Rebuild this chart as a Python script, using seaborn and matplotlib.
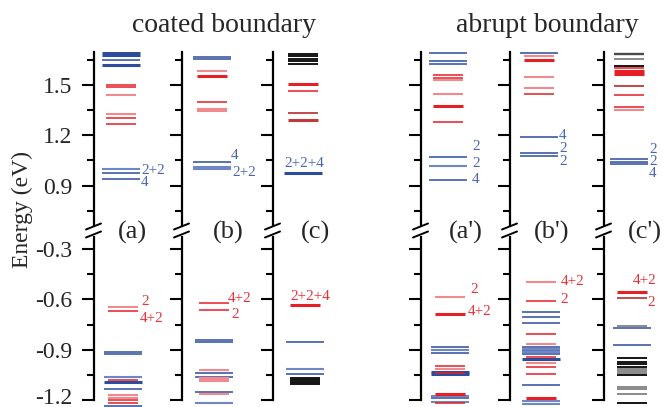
import matplotlib
matplotlib.use("Agg")
import matplotlib.pyplot as plt
import matplotlib.transforms as mtransforms
import seaborn as sns
import pandas as pd
from matplotlib.lines import Line2D

# ---------------- data ----------------
PANELS = ["(a)", "(b)", "(c)", "(a')", "(b')", "(c')"]
GROUP_TITLES = ["coated boundary", "abrupt boundary"]
YLABEL = "Energy (eV)"
UP_MAJOR = [0.9, 1.2, 1.5]
UP_MINOR = [0.75, 1.05, 1.35, 1.65]
LO_MAJOR = [-1.2, -0.9, -0.6, -0.3]
LO_MINOR = [-1.05, -0.75, -0.45]

# panel (a)
A_BLUE = [1.645, 0.975, 0.940, -0.910, -0.922, -1.132, -1.234]
A_BLUE_B = [1.693, 1.677, 1.617, -1.094]
A_BLUE_L = [1.000, -1.064]
A_RED = [1.500, 1.488, 1.305, 1.268, -0.672, -1.082, -1.200, -1.214]
A_RED_L = [1.440, 1.327, -0.646, -1.167, -1.187]
A_TAGS = ["2+2", "4", "2", "4+2"]
A_TAG_E = [0.990, 0.917, -0.613, -0.712]
A_TAG_C = ["blue", "blue", "red", "red"]

# panel (b)
B_BLUE = [1.665, 1.651, 1.043, -0.839, -0.851, -1.035, -1.059, -1.148]
B_BLUE_L = [1.008, 0.998, -1.215]
B_RED = [1.399, -0.624, -0.662, -1.080]
B_RED_B = [1.552]
B_RED_L = [1.584, 1.354, 1.346, -1.017, -1.066, -1.074, -1.087, -1.160]
B_TAGS = ["4", "2+2", "4+2", "2"]
B_TAG_E = [1.077, 0.977, -0.593, -0.692]
B_TAG_C = ["blue", "blue", "red", "red"]

# panel (c)
C_BLACK = [1.686, 1.671, 1.656, 1.639, 1.623,
           -1.066, -1.074, -1.082, -1.090, -1.098, -1.104]
C_BLUE = [-0.856, -1.041]
C_BLUE_B = [0.973]
C_BLUE_L = [-1.014]
C_RED = [1.460]
C_RED_B = [1.503, -0.633]
C_RED_D = [1.329]
C_RED_DB = [1.288]
C_TAGS = ["2+2+4", "2+2+4"]
C_TAG_E = [1.033, -0.580]
C_TAG_C = ["blue", "red"]

# panel (a')
AP_BLUE = [1.689, 1.640, 1.622, 1.070, 0.933, -0.883, -0.916, -1.188]
AP_BLUE_L = [1.018, -0.899, -1.175, -1.212]
AP_BLUE_B = [-1.031, -1.042]
AP_RED = [1.556, 1.541, 1.279, -0.999, -1.038, -1.216]
AP_RED_L = [1.526, 1.444, -0.583, -1.013]
AP_RED_B = [1.371, -0.684, -1.160]
AP_TAGS = ["2", "2", "4", "2", "4+2"]
AP_TAG_E = [1.130, 1.031, 0.933, -0.540, -0.674]
AP_TAG_C = ["blue", "blue", "blue", "red", "red"]

# panel (b')
BP_BLUE = [1.689, 1.190, 1.096, 1.075, -0.674, -0.702, -0.741,
           -0.884, -0.904, -0.924, -1.108]
BP_BLUE_L = [-0.894, -0.914, -1.207, -1.221]
BP_BLUE_B = [-0.955]
BP_RED = [1.444, -0.607, -0.806, -0.943, -1.003, -1.043]
BP_RED_L = [1.674, 1.546, 1.481, -0.496, -0.864, -0.979]
BP_RED_B = [1.650, -1.188]
BP_TAGS = ["4", "2", "2", "4+2", "2"]
BP_TAG_E = [1.200, 1.122, 1.045, -0.496, -0.600]
BP_TAG_C = ["blue", "blue", "blue", "red", "red"]

# panel (c')
CP_GRAY_D = [1.685]
CP_GRAY = [1.653, -0.757, -1.013, -1.025, -1.035, -1.124, -1.133, -1.160]
CP_BLACK = [1.613, -0.946, -0.973, -0.985, -1.003, -1.048, -1.217]
CP_RED = [1.600, 1.440, 1.367]
CP_RED_B = [1.580, 1.566, -0.555]
CP_RED_L = [1.351]
CP_RED_D = [1.490, -0.589]
CP_BLUE = [1.057, 1.043, 1.029, -0.768, -0.874]
CP_TAGS = ["2", "2", "4", "4+2", "2"]
CP_TAG_E = [1.114, 1.043, 0.972, -0.488, -0.619]
CP_TAG_C = ["blue", "blue", "blue", "red", "red"]

LEVELS = [
    {"blue": A_BLUE, "blue_b": A_BLUE_B, "blue_l": A_BLUE_L, "red": A_RED, "red_l": A_RED_L},
    {"blue": B_BLUE, "blue_l": B_BLUE_L, "red": B_RED, "red_b": B_RED_B, "red_l": B_RED_L},
    {"black": C_BLACK, "blue": C_BLUE, "blue_b": C_BLUE_B, "blue_l": C_BLUE_L,
     "red": C_RED, "red_b": C_RED_B, "red_d": C_RED_D, "red_db": C_RED_DB},
    {"blue": AP_BLUE, "blue_l": AP_BLUE_L, "blue_b": AP_BLUE_B, "red": AP_RED,
     "red_l": AP_RED_L, "red_b": AP_RED_B},
    {"blue": BP_BLUE, "blue_l": BP_BLUE_L, "blue_b": BP_BLUE_B, "red": BP_RED,
     "red_l": BP_RED_L, "red_b": BP_RED_B},
    {"gray_d": CP_GRAY_D, "gray": CP_GRAY, "black": CP_BLACK, "red": CP_RED,
     "red_b": CP_RED_B, "red_l": CP_RED_L, "red_d": CP_RED_D, "blue": CP_BLUE},
]
TAGS = [(A_TAGS, A_TAG_E, A_TAG_C), (B_TAGS, B_TAG_E, B_TAG_C), (C_TAGS, C_TAG_E, C_TAG_C),
        (AP_TAGS, AP_TAG_E, AP_TAG_C), (BP_TAGS, BP_TAG_E, BP_TAG_C), (CP_TAGS, CP_TAG_E, CP_TAG_C)]

rows = []
for p, d in enumerate(LEVELS):
    for kind, vals in d.items():
        for v in vals:
            rows.append({"panel": p, "energy": v, "kind": kind})
df = pd.DataFrame(rows)

# ---------------- style / layout ----------------
STYLE = {
    "blue": ("#2E4C9C", 1.1, 19),
    "blue_b": ("#2E4C9C", 2.2, 19),
    "blue_l": ("#6F87C4", 1.5, 19),
    "red": ("#E61E25", 1.1, 15),
    "red_b": ("#E61E25", 2.2, 15),
    "red_l": ("#F08A8C", 1.5, 15),
    "red_d": ("#C0393B", 1.3, 15),
    "red_db": ("#C0393B", 2.2, 15),
    "black": ("#151515", 1.4, 15),
    "gray": ("#8A8A8A", 1.4, 15),
    "gray_d": ("#4A4A4A", 1.7, 15),
}
TAG_COLOR = {"blue": "#4A66B2", "red": "#E8323A"}

W, H = 663, 407
SPINES = [94, 182, 273, 421, 510, 604]
AX_W = 62
UP_TOP, UP_BOT = 52, 225
LO_TOP, LO_BOT = 237, 407
UP_LIM = (0.665, 1.695)
LO_LIM = (-1.24, -0.229)
UP_CENTER = [27, 29.5, 29.5, 26.5, 28.5, 25]
LO_CENTER = [29, 32, 31.5, 28.5, 31, 27.5]
TAG_X = [
    [47, 47, 47, 46],
    [49, 50, 46, 49],
    [31, 37],
    [51, 51, 51, 49, 47],
    [49, 49, 49, 51, 50],
    [45, 45, 45, 29, 43],
]
TAG_HA = [
    ["left"] * 4, ["left"] * 4, ["center", "center"],
    ["left"] * 5, ["left"] * 5, ["left"] * 5,
]
LABEL_X = [132, 228, 316, 466, 552, 645]

sns.set_theme(style="ticks")
plt.rcParams["font.family"] = ["Liberation Serif", "DejaVu Serif"]
plt.rcParams["axes.unicode_minus"] = False

fig = plt.figure(figsize=(W / 100, H / 100), dpi=100)


def rect(x, ytop, w, ybot):
    return [x / W, 1 - ybot / H, w / W, (ybot - ytop) / H]


for p in range(6):
    sx = SPINES[p]
    ax_u = fig.add_axes(rect(sx, UP_TOP, AX_W, UP_BOT))
    ax_l = fig.add_axes(rect(sx, LO_TOP, AX_W, LO_BOT))
    sub = df[df["panel"] == p]
    for ax, lim, centers, major, minor in [
        (ax_u, UP_LIM, UP_CENTER, UP_MAJOR, UP_MINOR),
        (ax_l, LO_LIM, LO_CENTER, LO_MAJOR, LO_MINOR),
    ]:
        ax.set_xlim(0, AX_W)
        ax.set_ylim(*lim)
        c = centers[p]
        for kind, g in sub.groupby("kind"):
            col, lw, hw = STYLE[kind]
            ax.hlines(g["energy"], c - hw, c + hw, colors=col, linewidth=lw)
        sns.despine(ax=ax, top=True, right=True, bottom=True)
        ax.spines["left"].set_linewidth(1.6)
        ax.spines["left"].set_color("black")
        ax.set_xticks([])
        ax.set_yticks(major)
        ax.set_yticks(minor, minor=True)
        ax.tick_params(axis="y", which="major", length=8.5, width=1.5, direction="out",
                       color="black", pad=7, labelsize=17)
        ax.tick_params(axis="y", which="minor", length=5, width=1.5, direction="out",
                       color="black")
        ax.set_facecolor("none")
        if p == 0:
            ax.set_yticklabels([f"{v:.1f}" for v in major])
        else:
            ax.set_yticklabels([])
    ax_l.spines["left"].set_bounds(-1.2, LO_LIM[1])
    if p == 0:
        lab = ax_l.get_yticklabels()[0]
        lab.set_transform(lab.get_transform() +
                          mtransforms.ScaledTranslation(0, 4 / 100, fig.dpi_scale_trans))

    tags, tag_e, tag_c = TAGS[p]
    for t, e, kc, tx, ha in zip(tags, tag_e, tag_c, TAG_X[p], TAG_HA[p]):
        ax = ax_u if e > 0 else ax_l
        ax.text(tx, e, t, color=TAG_COLOR[kc], fontsize=11, ha=ha, va="center",
                clip_on=False)

    # axis break marks
    for yb in (226.5, 234.5):
        fig.add_artist(Line2D([(sx - 8) / W, (sx + 7) / W],
                              [1 - (yb + 3) / H, 1 - (yb - 3) / H],
                              color="black", linewidth=1.4))
    fig.text(LABEL_X[p] / W, 1 - 232 / H, PANELS[p], fontsize=19, ha="center",
             va="center")

fig.text(224 / W, 1 - 25 / H, GROUP_TITLES[0], fontsize=20, ha="center", va="center")
fig.text(547 / W, 1 - 25 / H, GROUP_TITLES[1], fontsize=20, ha="center", va="center")
fig.text(22 / W, 1 - 210 / H, YLABEL, fontsize=17, rotation=90, ha="center", va="center")

fig.savefig("out.png", dpi=100)
